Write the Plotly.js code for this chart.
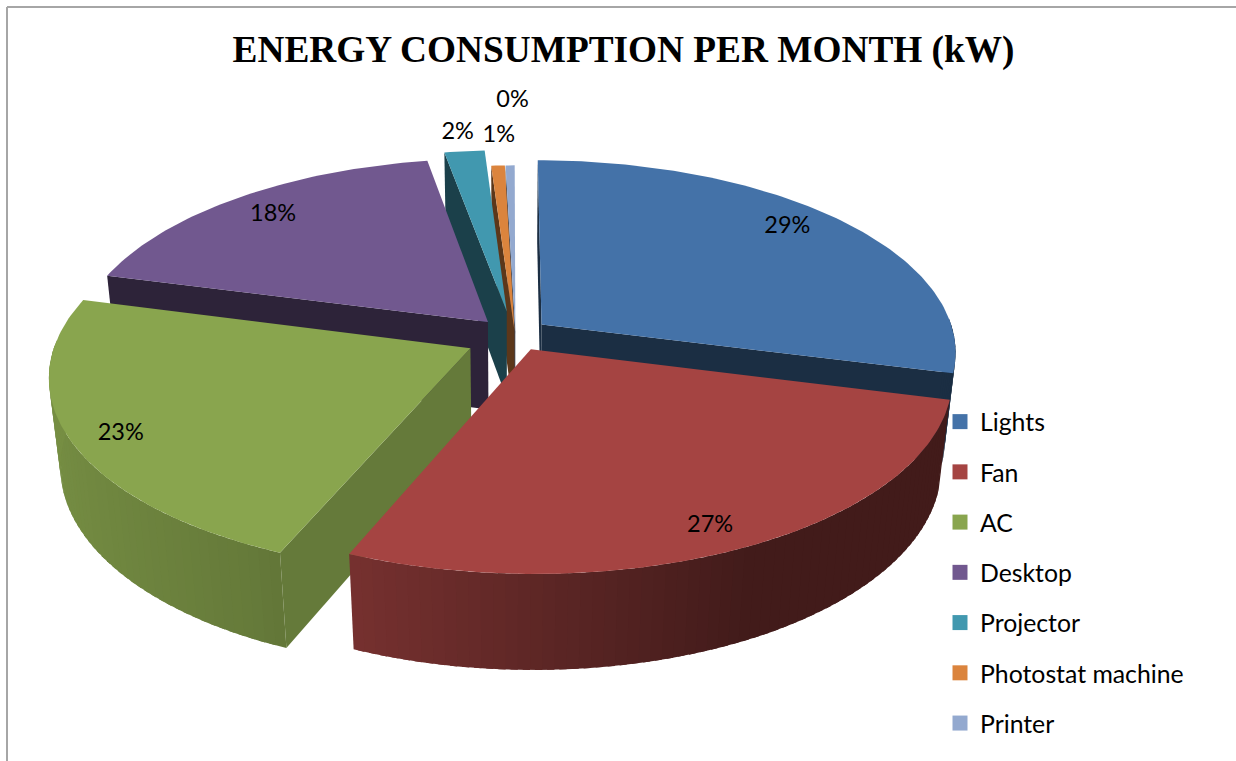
<!DOCTYPE html>
<html><head><meta charset="utf-8">
<script src="https://cdn.plot.ly/plotly-3.0.1.min.js"></script>
<style>html,body{margin:0;padding:0;background:#fff}#c{width:1236px;height:761px}</style>
</head><body><div id="c"></div>
<script>
// --- data ---
const categories = ['Lights','Fan','AC','Desktop','Projector','Photostat machine','Printer'];
const shares = [29, 27.2, 22.8, 18, 1.8, 0.6, 0.4];
// --- styling ---
const topColors = ['#4472a8','#a54442','#89a54e','#71588f','#4198af','#db843d','#93a9cf'];
const explodeU = [0.077,0.05,-0.095,-0.054,-0.008,0.011,0.013];
const explodeV = [-0.045,0.085,0.08,-0.058,-0.115,-0.01,-0.01];
const cutShade = [0.40,0.40,0.74,0.40,0.42,0.42,0.42];
const labelRadius = [0.86,0.895,0.89,0.85,1.13,1.205,1.465];
const labelTurn = [-3,1.5,-2,0,-0.3,0.5,0.5];
const drawOrder = [6,5,4,3,0,2,1];
const VIEW = {cx:510, cy:333, d:7.28, g:1376, f:3000, t:655, k:0.18};
const FONT = 'Lato, sans-serif';

const total = shares.reduce((a,b)=>a+b,0);
const project = (u,v,low) => {
  const w = VIEW.d - v + (low?VIEW.k:0);
  return [VIEW.cx + VIEW.f*u/w, VIEW.cy + (VIEW.g*v + (low?VIEW.t:0))/w];
};
const shade = (hex,s) => {
  const n = parseInt(hex.slice(1),16);
  const c = [n>>16,(n>>8)&255,n&255].map(x=>Math.round(x*s));
  return `rgb(${c.join(',')})`;
};
const wallBright = sn => {
  const pts = [[-1,0.86],[-0.45,0.74],[0.45,0.40],[1,0.40]];
  for (let i=1;i<pts.length;i++) if (sn<=pts[i][0]) {
    const a=pts[i-1],b=pts[i];
    return a[1]+(b[1]-a[1])*(sn-a[0])/(b[0]-a[0]);
  }
  return 0.4;
};
const traces = [];
const poly = (pts,color) => traces.push({
  type:'scatter',mode:'lines',x:[...pts.map(p=>p[0]),pts[0][0]],y:[...pts.map(p=>p[1]),pts[0][1]],
  fill:'toself',fillcolor:color,line:{color:color,width:0},hoverinfo:'skip',showlegend:false
});

let acc = 0;
const slices = shares.map((v,i)=>{
  const a0 = acc/total*2*Math.PI; acc += v; const a1 = acc/total*2*Math.PI;
  return {i,a0,a1,m:(a0+a1)/2,ou:explodeU[i],ov:explodeV[i]};
});
const area = p => p.reduce((s,q,j)=>{const r=p[(j+1)%p.length];return s+q[0]*r[1]-r[0]*q[1];},0);

drawOrder.forEach(idx=>{
  const s = slices[idx], col = topColors[idx];
  const rim = a => [s.ou+Math.sin(a), s.ov-Math.cos(a)];
  [[s.a0,1],[s.a1,-1]].forEach(([a,sign])=>{
    const [u,v] = rim(a);
    const q = [project(s.ou,s.ov,false),project(u,v,false),project(u,v,true),project(s.ou,s.ov,true)];
    if (area(q)*sign < 0) poly(q,shade(col,cutShade[idx]));
  });
  const span = s.a1-s.a0, n = Math.max(2,Math.ceil(span/(Math.PI/120)));
  for (let j=0;j<n;j++){
    const b0=s.a0+span*j/n, b1=Math.min(s.a1,s.a0+span*(j+1.6)/n), mid=s.a0+span*(j+0.5)/n;
    if (Math.cos(mid) > 0.03) continue;
    const pts=[],low=[];
    for(let e=0;e<=2;e++){const [u,v]=rim(b0+(b1-b0)*e/2);pts.push(project(u,v,false));low.unshift(project(u,v,true));}
    poly([...pts,...low],shade(col,wallBright(Math.sin(mid))));
  }
  const top=[project(s.ou,s.ov,false)];
  const nt=Math.max(3,Math.ceil(span/(Math.PI/180)));
  for(let j=0;j<=nt;j++){const [u,v]=rim(s.a0+span*j/nt);top.push(project(u,v,false));}
  poly(top,col);
});

const labelPos = slices.map(s=>{
  const a = s.m + labelTurn[s.i]*Math.PI/180;
  return project(s.ou+labelRadius[s.i]*Math.sin(a), s.ov-labelRadius[s.i]*Math.cos(a), false);
});
traces.push({type:'scatter',mode:'text',x:labelPos.map(p=>p[0]),y:labelPos.map(p=>p[1]),
  text:shares.map(v=>Math.round(v/total*100)+'%'),textposition:'middle center',
  textfont:{family:FONT,size:23.5,color:'#000'},hoverinfo:'skip',showlegend:false});

categories.forEach((c,i)=>traces.push({type:'scatter',mode:'markers',x:[null],y:[null],name:c,legendgroup:c,
  marker:{symbol:'square',size:15,color:topColors[i],line:{width:0}},showlegend:true}));

const frame = {color:'#a6a6a6',width:2};
const layout = {
  width:1236,height:761,margin:{l:0,r:0,t:0,b:0},paper_bgcolor:'#fff',plot_bgcolor:'#fff',
  title:{text:'<b>ENERGY CONSUMPTION PER MONTH (kW)</b>',x:0.5045,xanchor:'center',y:0.936,yanchor:'middle',
    font:{family:'Liberation Serif, serif',size:37.3,color:'#000'}},
  xaxis:{range:[0,1236],visible:false,fixedrange:true},
  yaxis:{range:[761,0],visible:false,fixedrange:true},
  legend:{x:940/1236,xanchor:'left',y:1-399/761,yanchor:'top',tracegroupgap:15,font:{family:FONT,size:24.8,color:'#000'},bgcolor:'rgba(0,0,0,0)'},
  shapes:[
    {type:'line',xref:'paper',yref:'paper',x0:7/1236,x1:1,y0:1-7/761,y1:1-7/761,line:frame},
    {type:'line',xref:'paper',yref:'paper',x0:7/1236,x1:7/1236,y0:1-7/761,y1:0,line:frame}
  ],
  hovermode:false
};
Plotly.newPlot('c',traces,layout,{displayModeBar:false,staticPlot:true});
</script></body></html>
